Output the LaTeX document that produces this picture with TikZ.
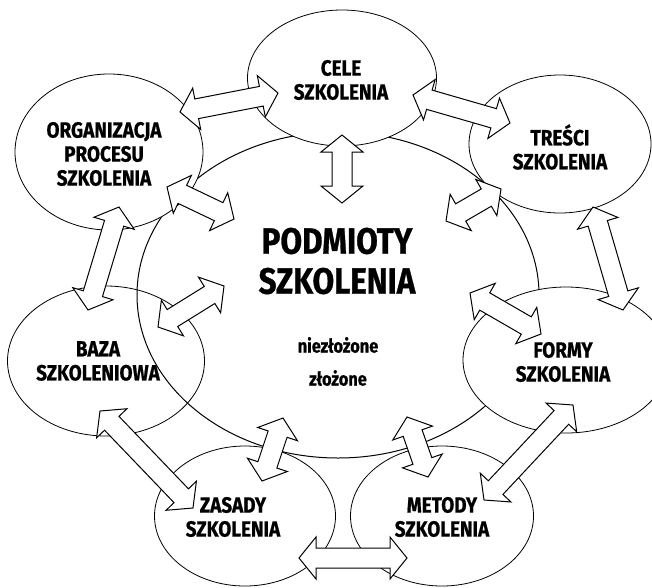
\documentclass[tikz,border=0pt]{standalone}
\usepackage{fontspec}
\setmainfont{Fira Sans}[FakeStretch=0.86, BoldFeatures={FakeBold=0.8}]
\usetikzlibrary{shapes.geometric,calc}
\tikzset{
  ell/.style={ellipse, draw, line width=0.8pt, inner sep=0pt, outer sep=0pt},
  ellw/.style={ell, fill=white},
  lbl/.style={align=center, inner sep=0pt, font=\bfseries\fontsize{22}{24}\selectfont},
  biglbl/.style={align=center, inner sep=0pt, font=\bfseries\fontsize{36.5}{40}\selectfont},
  smalllbl/.style={inner sep=0pt, font=\bfseries\fontsize{19}{22}\selectfont},
  blockarr/.style={draw, fill=white, line width=1pt, line join=miter},
}
\newcommand\dblarr[2]{%
  \draw[blockarr] (#1)
    -- ($(#1)!17pt!(#2)!21pt!90:(#2)$)
    -- ($(#1)!17pt!(#2)!10pt!90:(#2)$)
    -- ($(#2)!17pt!(#1)!10pt!-90:(#1)$)
    -- ($(#2)!17pt!(#1)!21pt!-90:(#1)$)
    -- (#2)
    -- ($(#2)!17pt!(#1)!21pt!90:(#1)$)
    -- ($(#2)!17pt!(#1)!10pt!90:(#1)$)
    -- ($(#1)!17pt!(#2)!10pt!-90:(#2)$)
    -- ($(#1)!17pt!(#2)!21pt!-90:(#2)$)
    -- cycle;}
\begin{document}
\begin{tikzpicture}[x=1pt,y=-1pt]
\useasboundingbox (0,0) rectangle (652,587);
% ellipses below the central one
\node[ell, minimum width=197pt, minimum height=150pt] (baza) at (106,361) {};
\node[ell, minimum width=181pt, minimum height=140pt] (zasady) at (245,516) {};
\node[ell, minimum width=183pt, minimum height=140pt] (metody) at (442,516) {};
% central ellipse
\node[ell, line width=1pt, minimum width=402pt, minimum height=326pt] (center) at (338,295) {};
% ellipses above the central one
\node[ellw, minimum width=189pt, minimum height=136pt] (cele) at (342,78) {};
\node[ellw, minimum width=182pt, minimum height=138pt] (tresci) at (560,144) {};
\node[ellw, minimum width=188pt, minimum height=156pt] (org) at (109,152) {};
\node[ellw, minimum width=206pt, minimum height=146pt] (formy) at (566,360) {};
% labels
\node[lbl] (celeT) at (341,80) {CELE\\SZKOLENIA};
\node[lbl] (tresciT) at (560,147) {TREŚCI\\SZKOLENIA};
\node[lbl] (orgT) at (104,154) {ORGANIZACJA\\PROCESU\\SZKOLENIA};
\node[lbl] (bazaT) at (98,361) {BAZA\\SZKOLENIOWA};
\node[lbl] (formyT) at (563,362) {FORMY\\SZKOLENIA};
\node[lbl] (zasadyT) at (233,517) {ZASADY\\SZKOLENIA};
\node[lbl] (metodyT) at (442,517) {METODY\\SZKOLENIA};
\node[biglbl] (centerT) at (337,261) {PODMIOTY\\SZKOLENIA};
\node[smalllbl] (nz) at (338,345) {niezłożone};
\node[smalllbl] (zl) at (338,378) {złożone};
% arrow end points
\coordinate (a1) at (180,112); \coordinate (a2) at (278,93);
\coordinate (b1) at (413,95);  \coordinate (b2) at (510,123);
\coordinate (c1) at (342,135); \coordinate (c2) at (342,203);
\coordinate (d1) at (446,221); \coordinate (d2) at (501,189);
\coordinate (e1) at (167,187); \coordinate (e2) at (234,219);
\coordinate (f1) at (119,207); \coordinate (f2) at (88,310);
\coordinate (g1) at (158,327); \coordinate (g2) at (224,286);
\coordinate (h1) at (593,207); \coordinate (h2) at (623,310);
\coordinate (i1) at (470,293); \coordinate (i2) at (541,334);
\coordinate (j1) at (100,411); \coordinate (j2) at (193,508);
\coordinate (k1) at (283,418); \coordinate (k2) at (262,481);
\coordinate (l1) at (407,417); \coordinate (l2) at (428,477);
\coordinate (m1) at (573,405); \coordinate (m2) at (484,500);
\coordinate (n1) at (299,558); \coordinate (n2) at (407,558);
% block arrows
\dblarr{a1}{a2}
\dblarr{b1}{b2}
\dblarr{c1}{c2}
\dblarr{d1}{d2}
\dblarr{e1}{e2}
\dblarr{f1}{f2}
\dblarr{g1}{g2}
\dblarr{h1}{h2}
\dblarr{i1}{i2}
\dblarr{j1}{j2}
\dblarr{k1}{k2}
\dblarr{l1}{l2}
\dblarr{m1}{m2}
\dblarr{n1}{n2}
\end{tikzpicture}
\end{document}
